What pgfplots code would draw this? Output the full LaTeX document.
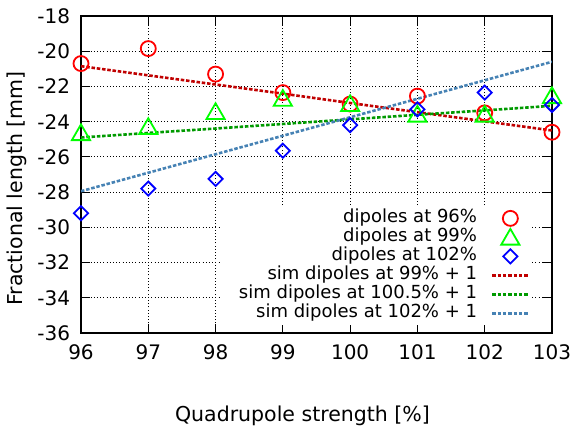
\documentclass[border=0pt]{standalone}
\usepackage{fontspec}
\setmainfont{DejaVu Sans}
\usepackage{pgfplots}
\pgfplotsset{compat=1.18}

\definecolor{lnred}{HTML}{C00000}
\definecolor{lngreen}{HTML}{009A00}
\definecolor{lnblue}{HTML}{4682B4}

\pgfplotsset{
    markleg/.style={legend image code/.code={\draw[##1] plot coordinates {(18bp,0bp)};}},
    triLeg/.style={legend image code/.code={\draw[##1] plot coordinates {(18bp,-2bp)};}},
    lineleg/.style={legend image code/.code={\draw[##1] (0bp,0bp) -- (36bp,0bp);}},
}

\begin{document}
\begin{tikzpicture}
\useasboundingbox (-81bp,-94bp) rectangle (494bp,333bp);
\begin{axis}[
    at={(0,0)}, anchor=south west,
    scale only axis,
    width=471bp, height=317bp,
    xmin=96, xmax=103,
    ymin=-36, ymax=-18,
    xtick={96,...,103},
    ytick={-36,-34,...,-18},
    /pgf/number format/assume math mode=true,
    ticklabel style={font=\fontsize{20bp}{24bp}\selectfont},
    xticklabel style={yshift=-8bp},
    yticklabel style={xshift=-7.5bp},
    tick align=inside,
    major tick length=9bp,
    tick style={black, line width=1bp},
    axis line style={black, line width=1.5bp},
    grid=major,
    major grid style={black, dash pattern=on 1bp off 2.2bp, line width=0.8bp},
    xlabel={Quadrupole strength [\%]},
    xlabel style={font=\fontsize{20.5bp}{24bp}\selectfont, at={(axis description cs:0.5,0)}, anchor=base, yshift=-88bp, xshift=-14bp},
    ylabel={Fractional length [mm]},
    ylabel style={font=\fontsize{20.5bp}{24bp}\selectfont, at={(axis description cs:0,0.5)}, anchor=center, yshift=64bp, xshift=-14bp},
    legend plot pos=right,
    legend cell align=right,
    legend style={at={(rel axis cs:0.953,0.025)}, anchor=south east,
        draw=none, fill=white, font=\fontsize{18bp}{21bp}\selectfont,
        inner xsep=0bp, inner ysep=3bp, row sep=2bp, column sep=14bp,
        nodes={inner sep=0pt, text height=13bp, text depth=4bp}},
]

% measured points
\addplot[only marks, mark=o, mark size=7.5bp, color=red, line width=1.8bp, markleg]
    coordinates {(96,-20.7)(97,-19.85)(98,-21.3)(99,-22.35)(100,-23.0)(101,-22.55)(102,-23.5)(103,-24.6)};

\addplot[only marks, mark=triangle, mark size=10.5bp, color=green, line width=1.8bp, triLeg]
    coordinates {(96,-24.75)(97,-24.4)(98,-23.55)(99,-22.8)(100,-23.1)(101,-23.7)(102,-23.7)(103,-22.65)};

\addplot[only marks, mark=square, mark size=5bp, mark options={rotate=45}, color=blue, line width=1.8bp, markleg]
    coordinates {(96,-29.2)(97,-27.8)(98,-27.25)(99,-25.65)(100,-24.2)(101,-23.3)(102,-22.35)(103,-23.05)};

% simulation lines
\addplot[color=lnred, line width=2.6bp, dash pattern=on 3.5bp off 1.8bp, lineleg]
    coordinates {(96,-20.85)(97,-21.37)(98,-21.89)(99,-22.41)(100,-22.94)(101,-23.46)(102,-23.98)(103,-24.5)};

\addplot[color=lngreen, line width=2.6bp, dash pattern=on 3.5bp off 1.8bp, lineleg]
    coordinates {(96,-24.9)(97,-24.64)(98,-24.39)(99,-24.13)(100,-23.87)(101,-23.61)(102,-23.36)(103,-23.1)};

\addplot[color=lnblue, line width=2.6bp, dash pattern=on 3.5bp off 1.8bp, lineleg]
    coordinates {(96,-27.95)(97,-26.9)(98,-25.85)(99,-24.8)(100,-23.75)(101,-22.7)(102,-21.65)(103,-20.6)};

\legend{\makebox[256bp][r]{dipoles at 96\%}, dipoles at 99\%, dipoles at 102\%,
    sim dipoles at 99\% + 1, sim dipoles at 100.5\% + 1, sim dipoles at 102\% + 1}
\end{axis}
\end{tikzpicture}
\end{document}
